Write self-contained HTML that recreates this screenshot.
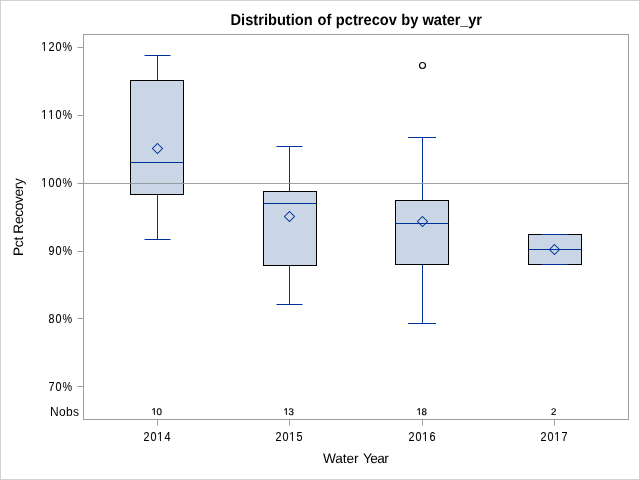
<!DOCTYPE html>
<html><head><meta charset="utf-8"><title>Distribution of pctrecov by water_yr</title>
<style>html,body{margin:0;padding:0;background:#fff;}svg{display:block;}text{font-family:"Liberation Sans", sans-serif;fill:#000;}</style>
</head><body>
<svg width="640" height="480" viewBox="0 0 640 480">
<rect x="0" y="0" width="640" height="480" fill="#fff"/>
<rect x="0.5" y="0.5" width="639" height="479" fill="none" stroke="#d1d1d1" stroke-width="1"/>
<rect x="83.5" y="34.5" width="545" height="385" fill="none" stroke="#989ea1" stroke-width="1"/>
<rect x="77.4" y="47" width="5.6" height="1" fill="#989ea1"/>
<text transform="scale(0.9,1)" x="45.90 53.89 61.67 69.56" y="51" font-size="12" stroke="#000" stroke-width="0.12">120<tspan stroke-width="0.05">%</tspan></text>
<rect x="41.69" y="49.90" width="2.32" height="1.4" fill="#fff"/>
<rect x="45.00" y="49.90" width="2.24" height="1.4" fill="#fff"/>
<rect x="77.4" y="115" width="5.6" height="1" fill="#989ea1"/>
<text transform="scale(0.9,1)" x="45.90 53.68 61.67 69.56" y="119" font-size="12" stroke="#000" stroke-width="0.12">110<tspan stroke-width="0.05">%</tspan></text>
<rect x="41.69" y="117.90" width="2.32" height="1.4" fill="#fff"/>
<rect x="45.00" y="117.90" width="2.24" height="1.4" fill="#fff"/>
<rect x="48.69" y="117.90" width="2.32" height="1.4" fill="#fff"/>
<rect x="52.00" y="117.90" width="2.24" height="1.4" fill="#fff"/>
<rect x="77.4" y="183" width="5.6" height="1" fill="#989ea1"/>
<text transform="scale(0.9,1)" x="45.90 53.89 61.67 69.56" y="187" font-size="12" stroke="#000" stroke-width="0.12">100<tspan stroke-width="0.05">%</tspan></text>
<rect x="41.69" y="185.90" width="2.32" height="1.4" fill="#fff"/>
<rect x="45.00" y="185.90" width="2.24" height="1.4" fill="#fff"/>
<rect x="77.4" y="251" width="5.6" height="1" fill="#989ea1"/>
<text transform="scale(0.9,1)" x="53.89 61.67 69.56" y="255" font-size="12" stroke="#000" stroke-width="0.12">90<tspan stroke-width="0.05">%</tspan></text>
<rect x="77.4" y="318" width="5.6" height="1" fill="#989ea1"/>
<text transform="scale(0.9,1)" x="53.89 61.67 69.56" y="323" font-size="12" stroke="#000" stroke-width="0.12">80<tspan stroke-width="0.05">%</tspan></text>
<rect x="77.4" y="386" width="5.6" height="1" fill="#989ea1"/>
<text transform="scale(0.9,1)" x="53.89 61.67 69.56" y="391" font-size="12" stroke="#000" stroke-width="0.12">70<tspan stroke-width="0.05">%</tspan></text>
<rect x="157" y="420" width="1" height="5.6" fill="#989ea1"/>
<text transform="scale(0.9,1)" x="159.56 167.33 174.79 182.89" y="441" font-size="12" stroke="#000" stroke-width="0.12">2014</text>
<rect x="157.69" y="439.90" width="2.32" height="1.4" fill="#fff"/>
<rect x="161.00" y="439.90" width="2.24" height="1.4" fill="#fff"/>
<text x="151.59 156.60" y="415" font-size="9.7" text-rendering="geometricPrecision" stroke="#000" stroke-width="0.2">10</text>
<rect x="151.88" y="413.90" width="2.13" height="1.4" fill="#fff"/>
<rect x="154.91" y="413.90" width="2.05" height="1.4" fill="#fff"/>
<rect x="289" y="420" width="1" height="5.6" fill="#989ea1"/>
<text transform="scale(0.9,1)" x="306.22 314.00 321.46 329.56" y="441" font-size="12" stroke="#000" stroke-width="0.12">2015</text>
<rect x="289.69" y="439.90" width="2.32" height="1.4" fill="#fff"/>
<rect x="293.00" y="439.90" width="2.24" height="1.4" fill="#fff"/>
<text x="283.59 288.60" y="415" font-size="9.7" text-rendering="geometricPrecision" stroke="#000" stroke-width="0.2">13</text>
<rect x="283.88" y="413.90" width="2.13" height="1.4" fill="#fff"/>
<rect x="286.91" y="413.90" width="2.05" height="1.4" fill="#fff"/>
<rect x="422" y="420" width="1" height="5.6" fill="#989ea1"/>
<text transform="scale(0.9,1)" x="454.00 461.78 469.24 477.33" y="441" font-size="12" stroke="#000" stroke-width="0.12">2016</text>
<rect x="422.69" y="439.90" width="2.32" height="1.4" fill="#fff"/>
<rect x="426.00" y="439.90" width="2.24" height="1.4" fill="#fff"/>
<text x="416.59 421.60" y="415" font-size="9.7" text-rendering="geometricPrecision" stroke="#000" stroke-width="0.2">18</text>
<rect x="416.88" y="413.90" width="2.13" height="1.4" fill="#fff"/>
<rect x="419.91" y="413.90" width="2.05" height="1.4" fill="#fff"/>
<rect x="554" y="420" width="1" height="5.6" fill="#989ea1"/>
<text transform="scale(0.9,1)" x="600.67 608.44 615.90 624.00" y="441" font-size="12" stroke="#000" stroke-width="0.12">2017</text>
<rect x="554.69" y="439.90" width="2.32" height="1.4" fill="#fff"/>
<rect x="558.00" y="439.90" width="2.24" height="1.4" fill="#fff"/>
<text x="550.90" y="415" font-size="9.7" text-rendering="geometricPrecision" stroke="#000" stroke-width="0.2">2</text>
<text x="49.9" y="416" font-size="12" letter-spacing="0.4">Nobs</text>
<rect x="130.5" y="80.5" width="53" height="114" fill="#cad5e5" stroke="#000" stroke-width="1"/>
<rect x="157" y="55" width="1" height="25" fill="#003399"/>
<rect x="157" y="195" width="1" height="45" fill="#003399"/>
<rect x="144.5" y="55" width="26" height="1" fill="#003399"/>
<rect x="144.5" y="239" width="26" height="1" fill="#003399"/>
<rect x="130.5" y="162" width="53" height="1" fill="#003399"/>
<path d="M157.5 143.5L162.5 148.5L157.5 153.5L152.5 148.5Z" fill="none" stroke="#003399" stroke-width="1.05"/>
<rect x="263.5" y="191.5" width="53" height="74" fill="#cad5e5" stroke="#000" stroke-width="1"/>
<rect x="289" y="146" width="1" height="45" fill="#003399"/>
<rect x="289" y="266" width="1" height="39" fill="#003399"/>
<rect x="276.5" y="146" width="26" height="1" fill="#003399"/>
<rect x="276.5" y="304" width="26" height="1" fill="#003399"/>
<rect x="263.5" y="203" width="53" height="1" fill="#003399"/>
<path d="M289.5 211.5L294.5 216.5L289.5 221.5L284.5 216.5Z" fill="none" stroke="#003399" stroke-width="1.05"/>
<rect x="395.5" y="200.5" width="53" height="64" fill="#cad5e5" stroke="#000" stroke-width="1"/>
<rect x="422" y="137" width="1" height="63" fill="#003399"/>
<rect x="422" y="265" width="1" height="59" fill="#003399"/>
<rect x="408" y="137" width="28" height="1" fill="#003399"/>
<rect x="408" y="323" width="28" height="1" fill="#003399"/>
<rect x="395.5" y="223" width="53" height="1" fill="#003399"/>
<path d="M422.5 216.5L427.5 221.5L422.5 226.5L417.5 221.5Z" fill="none" stroke="#003399" stroke-width="1.05"/>
<rect x="528.5" y="234.5" width="53" height="30" fill="#cad5e5" stroke="#000" stroke-width="1"/>
<rect x="541.5" y="234" width="26" height="1" fill="#003399"/>
<rect x="541.5" y="264" width="26" height="1" fill="#003399"/>
<rect x="528.5" y="249" width="53" height="1" fill="#003399"/>
<path d="M554.5 244.5L559.5 249.5L554.5 254.5L549.5 249.5Z" fill="none" stroke="#003399" stroke-width="1.05"/>
<rect x="84" y="183" width="544" height="1" fill="#8e9498" fill-opacity="0.88"/>
<circle cx="422.5" cy="65.5" r="3" fill="none" stroke="#000" stroke-width="1.15"/>
<text transform="translate(0,25) scale(1,1.07)" y="0" font-size="14.67" font-weight="bold" text-rendering="geometricPrecision"><tspan x="230.5">Distribution </tspan><tspan x="317.6">of </tspan><tspan x="335.8">pctrecov </tspan><tspan x="401.3">by </tspan><tspan x="422.6" letter-spacing="-0.13">water_yr</tspan></text>
<text y="463" font-size="13.7" text-rendering="geometricPrecision"><tspan x="323.0" letter-spacing="-0.12">Water </tspan><tspan x="362.9" letter-spacing="-0.6">Year</tspan></text>
<text transform="translate(23.1,255.95) rotate(-90)" font-size="13.7" text-rendering="geometricPrecision" letter-spacing="-0.32">Pct Recovery</text>
</svg></body></html>
